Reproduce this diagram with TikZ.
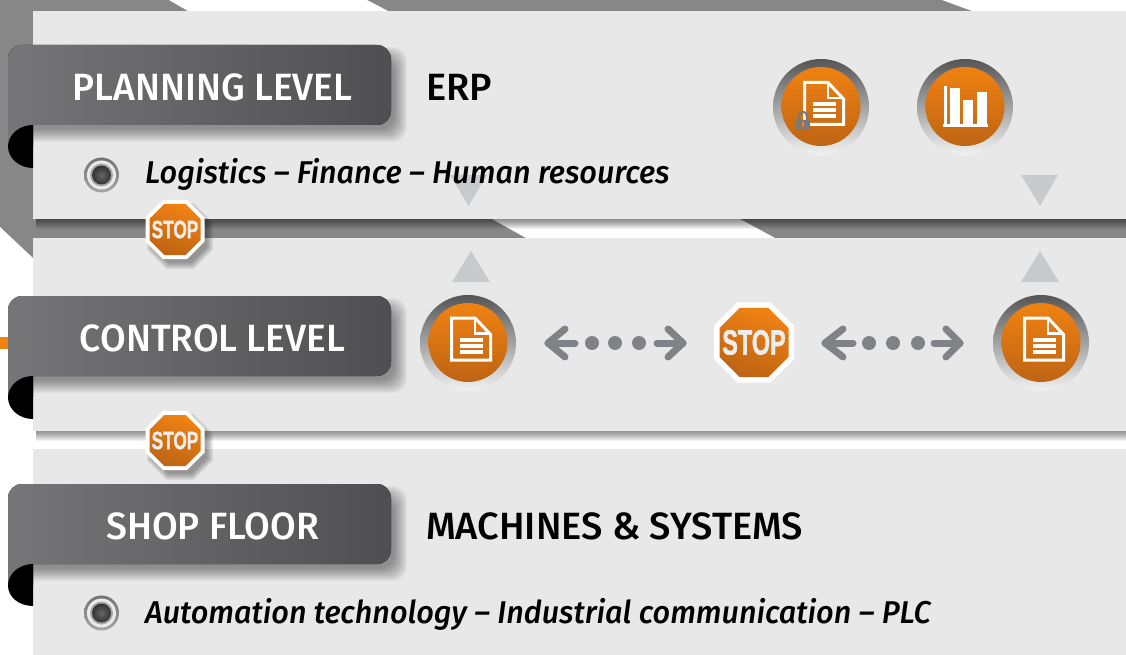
\documentclass[tikz,border=0pt]{standalone}
\usepackage{fontspec}
\setmainfont{Fira Sans}[UprightFont=* Medium,ItalicFont=* Medium Italic]
\newfontfamily\narrowfont{Fira Sans}[UprightFont=* Medium,ItalicFont=* Medium Italic,FakeStretch=0.972]
\newfontfamily\labelfont{Fira Sans}[UprightFont=* Medium,FakeStretch=0.98]
\newfontfamily\stopfont{Liberation Sans}[BoldFeatures={FakeBold=1.6}]
\usetikzlibrary{shapes.geometric}
\definecolor{panelc}{HTML}{E8E8E8}
\definecolor{bandc}{HTML}{878787}
\definecolor{labL}{HTML}{767678}
\definecolor{labR}{HTML}{4F4F51}
\definecolor{orT}{HTML}{F08212}
\definecolor{orB}{HTML}{BE6414}
\definecolor{ringT}{HTML}{555555}
\definecolor{ringB}{HTML}{F2F2F2}
\definecolor{arrc}{HTML}{808285}
\definecolor{trig}{HTML}{C8CACC}
\tikzset{
  x=1pt,y=-1pt,
  panel/.style={fill=panelc,draw=none},
  labeltxt/.style={text=white,anchor=base,inner sep=0pt,font=\labelfont\fontsize{38}{38}\selectfont},
  headtxt/.style={text=black,anchor=base west,inner sep=0pt,font=\fontsize{38}{38}\selectfont},
  bodytxt/.style={text=black,anchor=base west,inner sep=0pt,font=\narrowfont\fontsize{31.5}{32}\selectfont\itshape},
  iconring/.style={circle,minimum size=96pt,inner sep=0pt,shade,top color=ringT,bottom color=ringB},
  iconcore/.style={circle,minimum size=79pt,inner sep=0pt,shade,top color=orT,bottom color=orB},
  docline/.style={draw=white,line width=3pt,line join=miter},
  twoway/.style={draw=arrc,line width=7pt,line cap=round,line join=round},
  dotc/.style={circle,fill=arrc,minimum size=14pt,inner sep=0pt},
  trimark/.style={fill=trig,draw=none},
  octo/.style={regular polygon,regular polygon sides=8,inner sep=0pt,outer sep=0pt},
}
% soft shadow of a band label
\newcommand{\labshadow}[2]{%
  \begin{scope}
    \clip (33,#1-10) rectangle (430,#2+30);
    \foreach \g in {0,...,13}{
      \fill[black,opacity=.032,rounded corners=14pt]
        (8+\g,#1+2+\g) rectangle (407-\g,#2+17-\g);
    }
  \end{scope}}
% stop sign
\newcommand{\stopsign}[6]{%
  \node[octo,fill=white,minimum size=#4*2.165pt] (#1) at (#2,#3) {};
  \node[octo,shade,shading=axis,top color=orT,bottom color=orB,shading angle=-20,minimum size=#5*2.165pt] (#1core) at (#2,#3) {};
  \node[inner sep=0pt,text=white!93!black] (#1txt) at (#2,#3) {#6};}
\newcommand{\stopshadow}[3]{%
  \foreach \g in {0,...,7}{
    \node[octo,fill=black,opacity=.05,minimum size={(#3*2.165+8-\g*2)*1pt}] at (#1+5,#2+7) {};
  }}
\newcommand{\bulletmark}[3]{%
  \node[circle,minimum size=35pt,inner sep=0pt,shade,top color=gray!90!black,bottom color=gray!70] (#1) at (#2,#3) {};
  \node[circle,minimum size=29pt,inner sep=0pt,fill=white!92!black] at (#2,#3) {};
  \node[circle,minimum size=23pt,inner sep=0pt,fill=gray!70] at (#2,#3) {};
  \node[circle,minimum size=19pt,inner sep=0pt,shade,inner color=black!60,outer color=black!80] at (#2,#3) {};}
\newcommand{\docglyph}[2]{%
  \begin{scope}[shift={(#1,#2)}]
    \draw[docline] (-16.5,-24.5) -- (7,-24.5) -- (22.5,-8) -- (22.5,17.5) -- (-16.5,17.5) -- cycle;
    \draw[draw=white,line width=2.5pt] (7,-24.5) -- (7,-9) -- (22.5,-9);
    \fill[white] (-8,-5) rectangle (15,-1);
    \fill[white] (-8,1) rectangle (15,5);
    \fill[white] (-8,7) rectangle (15,11);
  \end{scope}}
\begin{document}
\begin{tikzpicture}
\useasboundingbox (0,0) rectangle (1126,655);
% background bands
\fill[white] (0,0) rectangle (1126,655);
\fill[bandc] (0,0) rectangle (1126,11);
\fill[bandc] (0,0) rectangle (33,258);
\fill[bandc] (33,219) rectangle (1126,238);
\fill[white] (169,0) -- (188,11) -- (388,11) -- (367,0) -- cycle;
\fill[white] (942,0) -- (972,11) -- (1126,11) -- (1126,0) -- cycle;
\fill[white] (0,227) -- (33,258) -- (0,258) -- cycle;
\fill[white] (492,219) -- (526,238) -- (775,238) -- (740,219) -- cycle;
\fill[orT] (0,337) rectangle (10,349);
% panel shadows
\foreach \g in {1,...,10}{
  \fill[black,opacity=.055] (36,219) rectangle (1126,219+\g);
  \fill[black,opacity=.05] (36,431) rectangle (1126,431+\g);
}
% panels
\fill[panel] (33,11) rectangle (1126,219);
\fill[panel] (33,238) rectangle (1126,431);
\fill[panel] (33,449) rectangle (1126,655);
% grey triangles
\fill[trimark] (450,175) -- (487,175) -- (468.5,206) -- cycle;
\fill[trimark] (1021,175) -- (1058,175) -- (1040,206) -- cycle;
\fill[trimark] (452,282) -- (490,282) -- (471,251) -- cycle;
\fill[trimark] (1021,282) -- (1059,282) -- (1040,251) -- cycle;
% labels
\labshadow{45}{125}
\labshadow{296}{376}
\labshadow{484}{564}
\fill[left color=labL,right color=labR] (8,146) [rounded corners=14pt] -- (8,45) -- (391,45) -- (391,125) [sharp corners] -- (33,125) -- (33,146) -- cycle;
\fill[black] (33,125) .. controls (19,125) and (8,135) .. (8,146.5) .. controls (8,158) and (19,168) .. (33,168) -- cycle;
\node[labeltxt] (planning) at (212.5,100.5) {PLANNING LEVEL};
\fill[left color=labL,right color=labR] (8,397) [rounded corners=14pt] -- (8,296) -- (391,296) -- (391,376) [sharp corners] -- (33,376) -- (33,397) -- cycle;
\fill[black] (33,376) .. controls (19,376) and (8,386) .. (8,397.5) .. controls (8,409) and (19,419) .. (33,419) -- cycle;
\node[labeltxt] (control) at (212.5,351.5) {CONTROL LEVEL};
\fill[left color=labL,right color=labR] (8,585) [rounded corners=14pt] -- (8,484) -- (391,484) -- (391,564) [sharp corners] -- (33,564) -- (33,585) -- cycle;
\fill[black] (33,564) .. controls (19,564) and (8,574) .. (8,585.5) .. controls (8,597) and (19,606) .. (33,606) -- cycle;
\node[labeltxt] (shop) at (212.5,539.5) {SHOP FLOOR};
% headings and lines of text
\node[headtxt] (erp) at (426,100.5) {ERP};
\node[headtxt] (machines) at (426,539.5) {MACHINES \& SYSTEMS};
\bulletmark{bulletA}{101.5}{175}
\bulletmark{bulletB}{101.5}{613}
\node[bodytxt] (logi) at (145,184) {Logistics – Finance – Human resources};
\node[bodytxt] (auto) at (145,623) {Automation technology – Industrial communication – PLC};
% icons
\node[iconring] (lockring) at (821,107) {};
\node[iconcore] (lockcore) at (821,106.5) {};
\docglyph{821}{107}
\draw[draw=gray!95!black,line width=2.2pt] (799,121) -- (799,117) .. controls (799,110) and (807,110) .. (807,117) -- (807,121);
\fill[gray!95!black,rounded corners=1pt] (796,120) rectangle (810,130);
\fill[orT] (802.3,122) rectangle (804,127);
\node[iconring] (chartring) at (965,107) {};
\node[iconcore] (chartcore) at (965,106.5) {};
\fill[white] (943,124) rectangle (988,127);
\fill[white] (944,86) rectangle (946.7,125);
\fill[white] (950,88) rectangle (960,125);
\fill[white] (963,100) rectangle (973,125);
\fill[white] (977,92) rectangle (987,125);
\node[iconring] (docA) at (468,343) {};
\node[iconcore] (docAcore) at (468,342.5) {};
\docglyph{468}{342.5}
\node[iconring] (docB) at (1041,343) {};
\node[iconcore] (docBcore) at (1041,342.5) {};
\docglyph{1041}{342.5}
% two-way dotted arrows
\stopshadow{175}{229}{29.5}
\stopshadow{175}{440}{29.5}
\draw[twoway] (575,343) -- (548,343);
\draw[twoway] (565,329) -- (548,343) -- (565,357);
\node[dotc] (a1) at (592,343) {};
\node[dotc] (a2) at (615,343) {};
\node[dotc] (a3) at (639,343) {};
\draw[twoway] (657,343) -- (683,343);
\draw[twoway] (668,329) -- (683,343) -- (668,357);
\draw[twoway] (853,343) -- (825,343);
\draw[twoway] (843,329) -- (825,343) -- (843,357);
\node[dotc] (b1) at (869,343) {};
\node[dotc] (b2) at (893,343) {};
\node[dotc] (b3) at (918,343) {};
\draw[twoway] (934,343) -- (960,343);
\draw[twoway] (946,329) -- (960,343) -- (946,357);
% stop signs
\stopsign{stopA}{175}{229.5}{29.5}{25.5}{\stopfont\bfseries\fontsize{25}{25}\selectfont\scalebox{.69}[1]{STOP}}
\stopsign{stopB}{175}{440.5}{29.5}{25.5}{\stopfont\bfseries\fontsize{25}{25}\selectfont\scalebox{.69}[1]{STOP}}
\stopsign{stopC}{754}{342.5}{40}{34.5}{\stopfont\bfseries\fontsize{35}{35}\selectfont\scalebox{.67}[1]{STOP}}
\end{tikzpicture}
\end{document}
